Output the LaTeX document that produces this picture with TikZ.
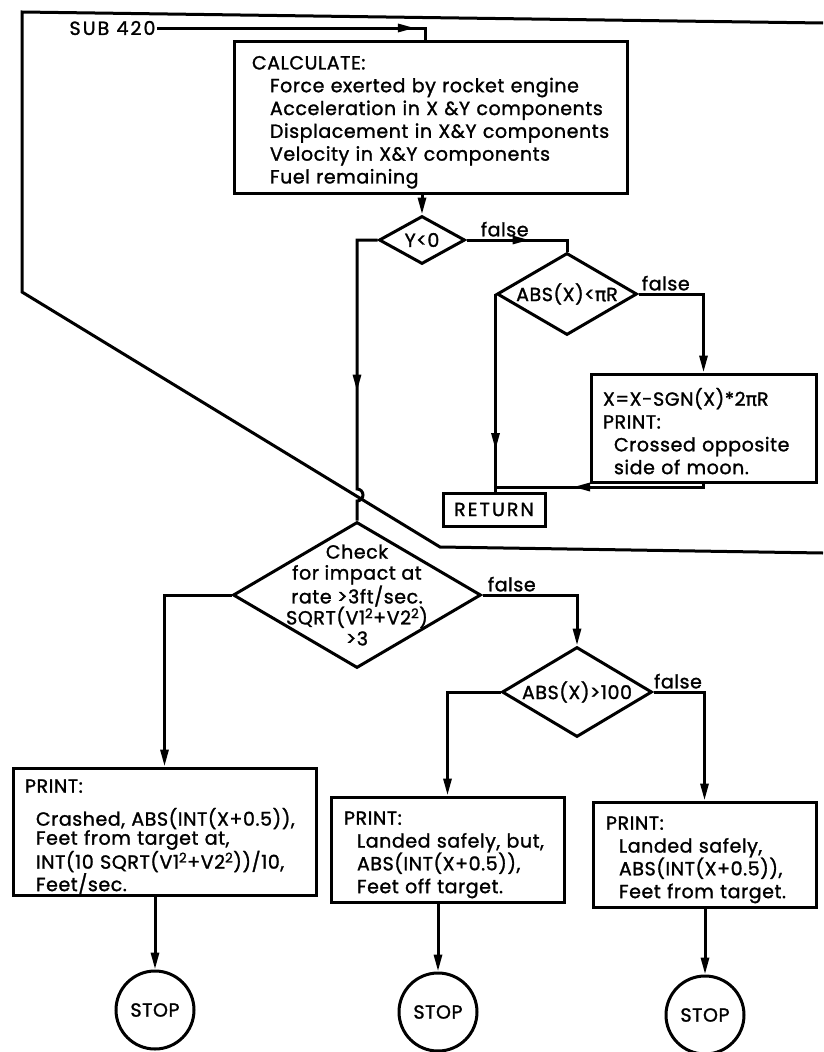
\documentclass[tikz,border=0pt]{standalone}
\usepackage{fontspec}
\setmainfont{Poppins}[LetterSpace=3,FakeBold=1.4]
\newfontfamily\grk{DejaVu Sans}[FakeBold=1.4]
\usepackage{tikz}
\usetikzlibrary{shapes.geometric}
\usetikzlibrary{arrows.meta}
\usetikzlibrary{decorations.markings}
\newcommand{\ind}{\hspace*{11pt}}
\newcommand{\wide}[1]{{\addfontfeature{LetterSpace=11}#1}}

\begin{document}
\begin{tikzpicture}[x=1pt,y=-1pt,>={Triangle[length=17pt,width=8pt]},line width=3pt,
    font=\fontsize{19}{22.8}\selectfont,
    box/.style={rectangle,draw,align=left,inner ysep=0pt,execute at begin node={\rule{0pt}{24pt}}},
    decision/.style={diamond,draw,inner sep=-40pt,align=center},
    stop node/.style={circle,draw,inner sep=0pt,minimum size=78pt},
    flab/.style={above=1pt,inner sep=1pt},
    midarr/.style={postaction={decorate},decoration={markings,mark=at position #1 with {\arrow{>}}}}]
  \useasboundingbox (0,0) rectangle (823,1052);
  % frame round the subroutine
  \draw (823,23) -- (22,12) -- (22,292) -- (440,547) -- (823,553);

  \node[anchor=west,inner sep=0pt] (sub) at (68,28) {\wide{SUB 420}};
  \node[box,minimum width=393pt,minimum height=152pt,text width=357pt,inner xsep=18pt] (calc) at (430.5,117)
    {CALCULATE:\\
     \hspace*{18pt}Force exerted by rocket engine\\
     \hspace*{18pt}Acceleration in X \&Y components\\
     \hspace*{18pt}Displacement in X\&Y components\\
     \hspace*{18pt}Velocity in X\&Y components\\
     \hspace*{18pt}Fuel remaining};
  \node[decision,minimum width=86pt,minimum height=48pt] (yneg) at (422,240) {Y<0};
  \node[decision,minimum width=140pt,minimum height=82pt] (absl) at (567,294) {ABS(X)<{\grk π}R};
  \node[box,minimum width=225pt,minimum height=108pt,text width=201pt,inner xsep=12pt] (sgn) at (703.5,428)
    {X=X-SGN(X)*2{\grk π}R\\
     PRINT:\\
     \hspace*{11pt}Crossed opposite\\
     \hspace*{11pt}side of moon.};
  \node[rectangle,draw,minimum width=102pt,minimum height=33pt,inner sep=0pt] (ret) at (494,509.5) {\wide{RETURN}};
  \coordinate (j1) at (497,487);
  \coordinate (h1) at (357,489);

  \node[decision,minimum width=248pt,minimum height=146pt,font=\fontsize{19}{21}\selectfont] (check) at (357,595)
    {Check\\for impact at\\rate >3ft/sec.\\SQRT(V1\textsuperscript{2}+V2\textsuperscript{2})\\>3};
  \node[decision,minimum width=150pt,minimum height=90pt] (hund) at (577,692) {ABS(X)>100};

  \node[box,minimum width=303pt,minimum height=127pt,text width=279pt,inner xsep=12pt,font=\fontsize{19}{19}\selectfont] (lprint) at (164.5,831.5)
    {PRINT:\\[14pt]
     \ind Crashed, ABS(INT(X+0.5)),\\
     \ind Feet from target at,\\
     \ind INT(10 SQRT(V1\textsuperscript{2}+V2\textsuperscript{2}))/10,\\
     \ind Feet/sec.};
  \node[box,minimum width=233pt,minimum height=105pt,text width=207pt,inner xsep=13pt] (mprint) at (447.5,849.5)
    {PRINT:\\
     \hspace*{13pt}Landed safely, but,\\
     \hspace*{13pt}ABS(INT(X+0.5)),\\
     \hspace*{13pt}Feet off target.};
  \node[box,minimum width=223pt,minimum height=105pt,text width=197pt,inner xsep=13pt] (rprint) at (704.5,854.5)
    {PRINT:\\
     \hspace*{13pt}Landed safely,\\
     \hspace*{13pt}ABS(INT(X+0.5)),\\
     \hspace*{13pt}Feet from target.};

  \node[stop node] (stop1) at (155,1010) {STOP};
  \node[stop node] (stop2) at (438,1012) {STOP};
  \node[stop node] (stop3) at (705,1015) {STOP};

  % connectors
  \draw[midarr=258pt] (sub.east) -| ([xshift=-5pt]calc.north);
  \path[->] (calc.south -| yneg.north) edge (yneg.north);
  \draw[midarr=63pt] (yneg.east) -| node[flab,pos=0.19] (f1) {false} (absl.north);
  \draw[midarr=172pt] (yneg.west) -| (h1) arc[start angle=90,end angle=-90,radius=6pt] -- (check.north);
  \draw[->] (absl.east) -| node[flab,pos=0.21] (f2) {false} (sgn.north);
  \draw[midarr=156pt] (absl.west) -- (absl.west |- ret.north);
  \draw[midarr=134pt] (sgn.south) |- (j1);
  \draw[->] (check.east) -| node[flab,pos=0.155] (f3) {false} (hund.north);
  \draw[->] (check.west) -| (lprint.north);
  \draw[->] (hund.west) -| (mprint.north);
  \draw[->] (hund.east) -| node[flab,pos=0.24] (f4) {false} (rprint.north);
  \path[->] (lprint.south -| stop1.north) edge (stop1.north);
  \path[->] (mprint.south -| stop2.north) edge (stop2.north);
  \path[->] (rprint.south -| stop3.north) edge (stop3.north);
\end{tikzpicture}
\end{document}
